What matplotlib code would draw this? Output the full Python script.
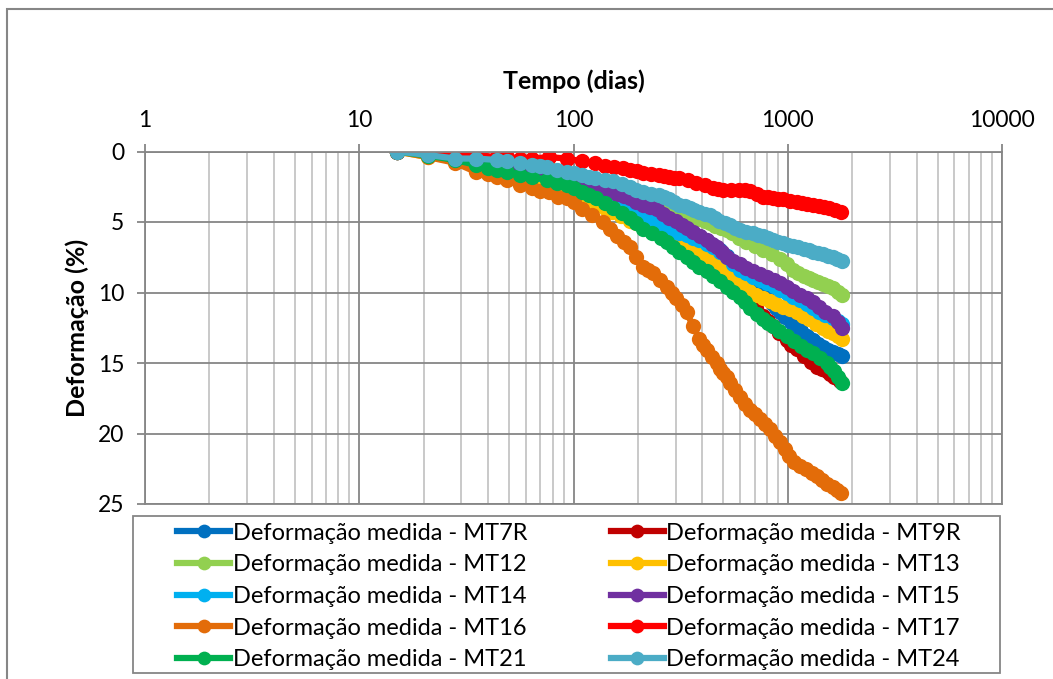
import matplotlib
matplotlib.use("Agg")
import matplotlib.pyplot as plt
from matplotlib.patches import Rectangle
from matplotlib.ticker import LogLocator, NullFormatter

plt.rcParams['font.family'] = ['Lato', 'DejaVu Sans']

# tempo (dias) e deformação (%)
t_mt7r = [15, 21, 28, 35, 44, 49, 56, 64, 70, 77, 85, 93, 100, 110, 120, 133, 146, 160, 175, 190,
          205, 220, 237, 255, 272, 290, 312, 337, 360, 387, 418, 450, 485, 520, 557, 597, 640, 687,
          725, 765, 805, 850, 885, 920, 975, 1030, 1090, 1150, 1230, 1310, 1380, 1460, 1540, 1620,
          1710, 1800]
d_mt7r = [0, 0.2, 0.4, 0.6, 0.9, 1.0, 1.2, 1.4, 1.55, 1.7, 1.9, 2.1, 2.25, 2.4, 2.6, 2.8, 3.05, 3.3, 3.55, 3.8,
          4.05, 4.3, 4.5, 4.7, 4.95, 5.2, 5.45, 5.7, 5.9, 6.1, 6.35, 6.6, 7.0, 7.4, 8.0, 8.6, 9.05, 9.5,
          9.8, 10.1, 10.45, 10.8, 11.1, 11.4, 11.75, 12.1, 12.4, 12.7, 13.05, 13.4, 13.65, 13.9, 14.05, 14.2,
          14.35, 14.5]

t_mt9r = [15, 21, 28, 35, 44, 56, 64, 70, 77, 85, 93, 100, 110, 120, 133, 146, 160, 172, 183, 196,
          210, 232, 255, 272, 290, 312, 337, 360, 387, 418, 450, 475, 500, 520, 545, 570, 600, 630,
          665, 710, 765, 805, 850, 915, 990, 1040, 1100, 1190, 1280, 1370, 1440, 1520, 1580, 1650, 1750]
d_mt9r = [0, 0.2, 0.4, 0.6, 0.9, 1.2, 1.4, 1.6, 1.8, 2.0, 2.2, 2.4, 2.6, 2.85, 3.1, 3.4, 3.7, 3.95, 4.2, 4.45,
          4.7, 5.05, 5.4, 5.65, 5.9, 6.2, 6.5, 6.85, 7.2, 7.55, 7.9, 8.15, 8.4, 8.6, 9.6, 9.8, 10.0, 10.3,
          10.6, 11.1, 11.7, 12.05, 12.4, 12.9, 13.4, 13.7, 14.0, 14.5, 14.9, 15.3, 15.45, 15.6, 15.8, 16.0, 16.3]

t_mt12 = [15, 21, 28, 35, 44, 49, 56, 64, 70, 77, 85, 93, 100, 110, 118, 126, 140, 155, 168, 183,
          196, 210, 230, 250, 265, 280, 296, 312, 330, 348, 367, 387, 410, 435, 460, 490, 520, 550,
          595, 640, 700, 765, 840, 920, 990, 1060, 1120, 1190, 1250, 1310, 1380, 1460, 1540, 1620,
          1710, 1800]
d_mt12 = [0, 0.2, 0.4, 0.5, 0.7, 0.8, 0.9, 1.0, 1.1, 1.2, 1.35, 1.5, 1.65, 1.8, 1.9, 2.0, 2.2, 2.4, 2.6, 2.8,
          2.95, 3.1, 3.3, 3.5, 3.65, 3.8, 4.0, 4.2, 4.35, 4.5, 4.65, 4.8, 4.95, 5.1, 5.25, 5.4, 5.6, 5.8,
          6.1, 6.4, 6.7, 7.0, 7.3, 7.6, 8.0, 8.4, 8.6, 8.8, 8.95, 9.1, 9.25, 9.4, 9.55, 9.7,
          9.95, 10.2]

t_mt13 = [15, 21, 28, 35, 40, 44, 49, 56, 64, 70, 77, 85, 93, 100, 110, 120, 133, 142, 152, 167,
          183, 196, 210, 232, 255, 278, 302, 325, 348, 373, 400, 432, 466, 490, 515, 550, 580, 615,
          660, 710, 765, 825, 885, 950, 1020, 1100, 1180, 1260, 1360, 1460, 1540, 1620, 1710, 1800]
d_mt13 = [0, 0.4, 0.7, 1.1, 1.3, 1.5, 1.7, 2.0, 2.2, 2.35, 2.5, 2.65, 2.8, 3.0, 3.2, 3.5, 3.8, 4.05, 4.3, 4.6,
          4.9, 5.1, 5.3, 5.55, 5.8, 6.15, 6.5, 6.65, 6.8, 7.05, 7.3, 7.6, 7.9, 8.2, 8.6, 9.1, 9.35, 9.6,
          9.9, 10.2, 10.4, 10.6, 10.8, 11.0, 11.2, 11.4, 11.65, 11.9, 12.2, 12.5, 12.7, 12.9, 13.1, 13.3]

t_mt14 = [15, 21, 28, 35, 44, 49, 56, 64, 70, 77, 85, 93, 100, 110, 120, 133, 146, 160, 175, 190,
          205, 220, 237, 255, 272, 290, 312, 337, 360, 387, 418, 450, 485, 520, 557, 597, 640, 687,
          740, 800, 860, 920, 990, 1060, 1140, 1230, 1310, 1400, 1500, 1620, 1710, 1800]
d_mt14 = [0, 0.2, 0.4, 0.6, 0.9, 1.0, 1.2, 1.4, 1.6, 1.8, 2.0, 2.2, 2.4, 2.6, 2.85, 3.1, 3.35, 3.6, 3.95, 4.3,
          4.5, 4.7, 4.95, 5.2, 5.45, 5.7, 5.8, 5.9, 6.1, 6.3, 6.55, 6.8, 7.15, 7.5, 7.95, 8.4, 8.65, 8.9,
          9.1, 9.3, 9.55, 9.8, 10.05, 10.3, 10.55, 10.8, 11.1, 11.4, 11.6, 11.8, 12.0, 12.2]

t_mt15 = [15, 21, 28, 35, 44, 49, 56, 64, 70, 77, 85, 93, 100, 110, 120, 133, 146, 160, 172, 183,
          196, 210, 228, 245, 262, 280, 300, 320, 340, 360, 390, 420, 443, 466, 493, 520, 557, 597,
          640, 687, 740, 800, 860, 920, 990, 1060, 1140, 1230, 1310, 1400, 1500, 1620, 1710, 1800]
d_mt15 = [0, 0.2, 0.4, 0.6, 0.9, 1.0, 1.2, 1.4, 1.55, 1.7, 1.85, 2.0, 2.15, 2.3, 2.45, 2.6, 2.8, 3.0, 3.15, 3.3,
          3.55, 3.8, 3.95, 4.1, 4.4, 4.7, 4.95, 5.2, 5.45, 5.7, 6.0, 6.3, 6.55, 6.8, 7.15, 7.5, 7.75, 8.0,
          8.25, 8.5, 8.7, 8.9, 9.1, 9.3, 9.6, 9.9, 10.15, 10.4, 10.7, 11.0, 11.35, 11.7, 12.1, 12.5]

t_mt16 = [15, 21, 28, 35, 40, 44, 49, 56, 64, 70, 77, 85, 93, 100, 110, 122, 137, 148, 160, 172,
          183, 196, 210, 222, 235, 253, 272, 287, 302, 320, 337, 362, 387, 403, 420, 443, 466, 483,
          500, 518, 537, 566, 597, 630, 665, 700, 740, 780, 825, 870, 920, 968, 1018, 1075, 1140,
          1215, 1300, 1370, 1450, 1530, 1620, 1700, 1780]
d_mt16 = [0, 0.4, 0.8, 1.45, 1.6, 1.8, 2.0, 2.4, 2.6, 2.8, 2.9, 3.2, 3.3, 3.6, 4.1, 4.5, 5.0, 5.5, 6.0, 6.4,
          6.8, 7.5, 8.2, 8.4, 8.6, 9.1, 9.6, 10.0, 10.4, 10.9, 11.4, 12.4, 13.3, 13.7, 14.1, 14.6, 15.0, 15.4,
          15.7, 16.0, 16.4, 16.9, 17.4, 17.9, 18.3, 18.6, 19.0, 19.3, 19.7, 20.2, 20.6, 21.1, 21.6, 22.0, 22.3,
          22.5, 22.8, 23.0, 23.3, 23.6, 23.8, 24.0, 24.2]

t_mt17 = [15, 21, 28, 35, 44, 49, 56, 64, 77, 93, 110, 126, 140, 155, 170, 183, 197, 210, 230, 250,
          265, 280, 295, 312, 343, 375, 410, 450, 475, 500, 545, 590, 630, 665, 715, 765, 805, 850,
          900, 950, 1020, 1100, 1160, 1230, 1310, 1400, 1480, 1560, 1660, 1780]
d_mt17 = [0, 0, 0, 0.25, 0.4, 0.4, 0.5, 0.5, 0.4, 0.5, 0.7, 0.8, 1.0, 1.1, 1.2, 1.3, 1.4, 1.5, 1.6, 1.7,
          1.75, 1.8, 1.85, 1.9, 2.05, 2.2, 2.4, 2.6, 2.65, 2.7, 2.7, 2.7, 2.75, 2.8, 3.0, 3.2, 3.25, 3.3,
          3.35, 3.4, 3.5, 3.6, 3.65, 3.7, 3.8, 3.9, 3.95, 4.0, 4.15, 4.3]

t_mt21 = [15, 21, 28, 35, 40, 44, 49, 56, 64, 75, 84, 93, 100, 110, 118, 128, 140, 153, 168, 183,
          196, 210, 232, 255, 272, 290, 312, 337, 360, 387, 418, 450, 485, 520, 557, 597, 630, 665,
          715, 765, 805, 850, 915, 990, 1070, 1150, 1230, 1310, 1410, 1520, 1580, 1650, 1720, 1800]
d_mt21 = [0, 0.3, 0.6, 0.95, 1.15, 1.3, 1.45, 1.65, 1.8, 2.0, 2.25, 2.4, 2.6, 2.9, 3.1, 3.3, 3.65, 4.0, 4.35, 4.7,
          5.1, 5.5, 5.8, 6.1, 6.45, 6.8, 7.15, 7.5, 7.85, 8.2, 8.5, 8.8, 9.2, 9.6, 9.95, 10.3, 10.7, 11.1,
          11.5, 11.9, 12.15, 12.4, 12.75, 13.1, 13.45, 13.8, 14.05, 14.3, 14.65, 15.0, 15.3, 15.6, 16.0, 16.4]

t_mt24 = [15, 21, 28, 35, 44, 49, 56, 64, 70, 75, 84, 93, 100, 110, 118, 126, 140, 153, 168, 183,
          196, 210, 230, 250, 265, 280, 296, 312, 330, 348, 367, 387, 410, 435, 457, 480, 508, 537,
          566, 597, 640, 687, 725, 765, 805, 850, 900, 950, 1000, 1060, 1120, 1190, 1250, 1310, 1380,
          1460, 1540, 1620, 1700, 1800]
d_mt24 = [0, 0.25, 0.5, 0.5, 0.6, 0.7, 0.8, 0.95, 1.0, 1.1, 1.3, 1.45, 1.55, 1.7, 1.8, 1.9, 2.0, 2.1, 2.3, 2.5,
          2.7, 2.9, 3.0, 3.1, 3.25, 3.4, 3.6, 3.8, 3.9, 4.0, 4.15, 4.3, 4.4, 4.5, 4.7, 4.9, 5.05, 5.2,
          5.4, 5.6, 5.7, 5.8, 5.9, 6.0, 6.15, 6.3, 6.4, 6.5, 6.6, 6.7, 6.8, 6.9, 7.0, 7.1, 7.2,
          7.3, 7.4, 7.5, 7.6, 7.8]

series = [
    ('MT7R', t_mt7r, d_mt7r, '#0070C0'),
    ('MT9R', t_mt9r, d_mt9r, '#C00000'),
    ('MT12', t_mt12, d_mt12, '#92D050'),
    ('MT13', t_mt13, d_mt13, '#FFC000'),
    ('MT14', t_mt14, d_mt14, '#00B0F0'),
    ('MT15', t_mt15, d_mt15, '#7030A0'),
    ('MT16', t_mt16, d_mt16, '#E36C09'),
    ('MT17', t_mt17, d_mt17, '#FF0000'),
    ('MT21', t_mt21, d_mt21, '#00B050'),
    ('MT24', t_mt24, d_mt24, '#4BACC6'),
]

grey = '#868686'

fig = plt.figure(figsize=(10.53, 6.79), dpi=100)
ax = fig.add_axes([145 / 1053, 1 - 504 / 679, 857 / 1053, 352.5 / 679])

handles = []
for name, t, d, c in series:
    h, = ax.plot(t, d, '-o', color=c, lw=4.5, ms=11, mec=c, mew=0,
                 label='Deformação medida - ' + name)
    handles.append(h)

ax.set_xscale('log')
ax.set_xlim(1, 10000)
ax.set_ylim(25, 0)
ax.xaxis.tick_top()
ax.xaxis.set_label_position('top')
ax.set_xticks([1, 10, 100, 1000, 10000])
ax.set_xticklabels(['1', '10', '100', '1000', '10000'])
ax.xaxis.set_minor_locator(LogLocator(base=10, subs=range(2, 10)))
ax.xaxis.set_minor_formatter(NullFormatter())
ax.set_yticks([0, 5, 10, 15, 20, 25])

ax.set_axisbelow(True)
ax.grid(which='major', color=grey, lw=1.3)
ax.grid(which='minor', axis='x', color='#c0c0c0', lw=1.2)
for s in ax.spines.values():
    s.set_color(grey)
    s.set_linewidth(1.3)
ax.tick_params(which='major', length=6, width=1.3, color=grey, labelsize=16.5, pad=9)
ax.tick_params(which='minor', length=0)

ax.set_xlabel('Tempo (dias)', fontsize=18, fontweight='bold', labelpad=15)
ax.set_ylabel('Deformação (%)', fontsize=18, fontweight='bold', labelpad=6)

# legenda em linhas: matplotlib preenche por coluna
order = handles[0::2] + handles[1::2]
fig.legend(order, [h.get_label() for h in order], ncol=2, loc='center',
           bbox_to_anchor=(569 / 1053, 1 - 596.5 / 679), frameon=False, fontsize=17,
           handlelength=2.25, handletextpad=0.1, columnspacing=3.55, labelspacing=0.45,
           markerscale=0.9)
fig.add_artist(Rectangle((133 / 1053, 1 - 673 / 679), 867 / 1053, 157 / 679,
                         transform=fig.transFigure, fill=False, ec=grey, lw=1.3))

# moldura externa
fig.add_artist(Rectangle((7 / 1053, -0.1), 1.2, 1.1 - 9 / 679,
                         transform=fig.transFigure, fill=False, ec=grey, lw=1.5))

fig.savefig('out.png', dpi=100)
